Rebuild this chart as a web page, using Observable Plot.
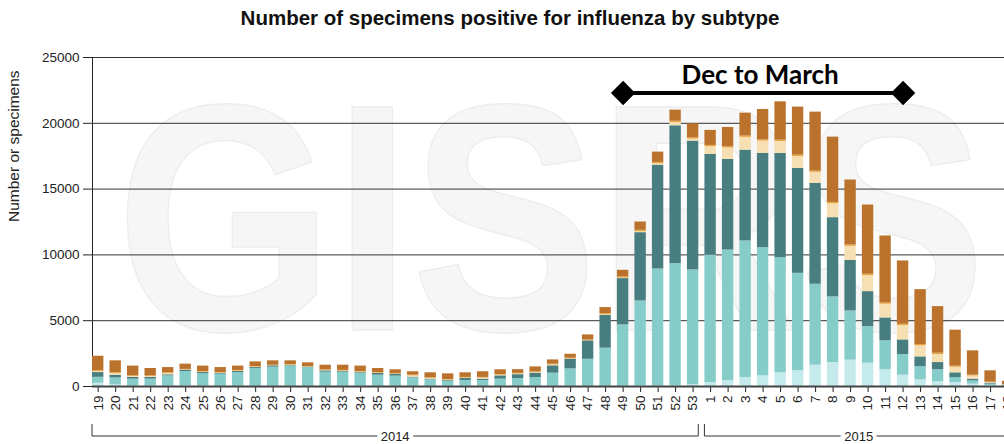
<!DOCTYPE html>
<html><head><meta charset="utf-8">
<script src="https://cdn.jsdelivr.net/npm/d3@7"></script>
<script src="https://cdn.jsdelivr.net/npm/@observablehq/plot@0.6"></script>
<style>
html,body{margin:0;padding:0;background:#fff;overflow:hidden;width:1004px;height:444px}
#title{height:36px;font:bold 20.5px "Liberation Sans",Arial,sans-serif;line-height:36px;text-align:center;padding-left:16px;color:#111;box-sizing:border-box}
#chart{position:relative}
</style></head><body>
<div id="title">Number of specimens positive for influenza by subtype</div>
<div id="chart"></div>
<script>
// Week tick labels: 2014 weeks 19–53, then 2015 weeks 1–18
const weekLabels = [
  "19","20","21","22","23","24","25","26","27","28","29","30","31","32","33","34","35","36","37","38","39","40","41","42","43","44","45","46","47","48","49","50","51","52","53",
  "1","2","3","4","5","6","7","8","9","10","11","12","13","14","15","16","17","18"
];
const yearSpans = [
  {year: "2014", from: "19", to: "53"},
  {year: "2015", from: "1", to: "18"}
];
const seriesNames = ["A(H1N1)pdm09", "A(H3)", "A (not subtyped)", "B (Yamagata lineage)", "B (Victoria lineage)", "B (lineage not determined)"];
const seriesColors = ["#c5eaec", "#86ccc9", "#487e80", "#f6dfb2", "#e9a43c", "#ba722c"];
const yTicks = [0, 5000, 10000, 15000, 20000, 25000];
const yLabel = "Number or specimens";

const aH1N1pdm = [
  250,120,30,30,30,60,30,20,20,20,20,20,20,20,20,20,20,20,20,20,20,20,20,20,20,20,20,20,20,20,20,30,30,50,130,
  300,430,680,810,1040,1190,1620,1820,2000,1770,1270,860,510,350,300,180,80,30
];
const aH3 = [
  450,530,530,530,780,1080,930,920,1040,1350,1450,1550,1420,1070,1070,990,840,770,640,490,390,440,440,540,580,660,990,1320,2050,2890,4660,6470,8900,9290,8730,
  9690,9940,10380,9740,8750,7410,6150,4990,3740,2780,2200,1570,1010,920,380,250,100,50
];
const aNotSubtyped = [
  360,210,130,130,80,100,100,50,80,70,100,30,30,100,50,50,130,150,50,50,50,150,100,250,300,330,560,730,1400,2500,3520,5190,7890,10470,9790,
  7640,6880,6900,7160,7920,7970,7660,6020,3850,2660,1740,1110,730,550,360,130,70,30
];
const bYamagata = [
  80,120,70,70,90,20,30,30,30,30,10,20,10,30,30,30,20,10,100,50,30,30,80,50,50,40,60,20,10,50,40,80,110,250,150,
  590,870,970,940,910,910,840,1060,1060,1220,1040,1090,840,610,420,240,40,20
];
const bVictoria = [
  60,60,50,50,60,40,50,40,50,50,40,50,40,50,50,50,50,40,50,50,40,50,50,50,50,60,70,60,60,80,80,100,100,100,100,
  100,100,100,100,100,100,100,100,100,100,100,100,100,100,80,60,40,20
];
const bNotDetermined = [
  1100,910,740,560,400,400,410,380,330,350,330,280,280,350,400,410,310,280,260,380,430,350,430,360,280,380,320,300,380,460,510,630,780,840,1060,
  1140,1460,1740,2300,2910,3650,4480,4960,4940,5260,5090,4810,4170,3540,2740,1850,860,250
];
const seriesValues = [aH1N1pdm, aH3, aNotSubtyped, bYamagata, bVictoria, bNotDetermined];

// Annotation: Dec to March
const annotation = [{from: "49", to: "12", level: 22300, text: "Dec to March", textAt: "4", textLevel: 23650}];

const rows = seriesNames.flatMap((s, i) => seriesValues[i].map((v, j) => ({week: weekLabels[j], series: s, value: v})));
const ends = annotation.flatMap(a => [{x: a.from, y: a.level}, {x: a.to, y: a.level}]);

const chart = Plot.plot({
  width: 1004, height: 408,
  marginLeft: 92, marginRight: 0, marginTop: 21, marginBottom: 58,
  style: {fontFamily: '"Liberation Sans", Arial, sans-serif', fontSize: "13.5px", color: "#222", background: "transparent", overflow: "visible"},
  x: {domain: weekLabels, range: [92, 1015], round: false, paddingInner: 0.35, paddingOuter: 0.05, align: 0, tickRotate: -90, tickSize: 6, tickPadding: 3, label: null},
  y: {domain: [0, 25000], ticks: yTicks, tickSize: 9, tickPadding: 4, tickFormat: d => String(d), label: null, line: true},
  color: {domain: seriesNames, range: seriesColors},
  marks: [
    Plot.ruleY(yTicks.slice(1), {stroke: "#333", strokeWidth: 1}),
    Plot.barY(rows, {x: "week", y: "value", fill: "series", order: seriesNames}),
    Plot.ruleY([0], {stroke: "#444", strokeWidth: 2}),
    Plot.link(annotation, {x1: "from", x2: "to", y1: "level", y2: "level", stroke: "#000", strokeWidth: 4}),
    Plot.dot(ends, {x: "x", y: "y", symbol: "diamond2", r: 11, fill: "#000"}),
    Plot.text(annotation, {x: "textAt", y: "textLevel", text: "text", fontSize: 26, fontWeight: "bold", fontFamily: "Lato", fill: "#000", dx: -3}),
    Plot.text([yLabel], {frameAnchor: "left", rotate: -90, dx: -78, text: d => d, fontSize: 15.5, fill: "#222"})
  ]
});
document.getElementById("chart").appendChild(chart);

// watermark behind everything
const svg = d3.select(chart);
svg.insert("text", "g")
  .attr("x", 116).attr("y", 294).attr("text-anchor", "start")
  .attr("textLength", 870).attr("lengthAdjust", "spacingAndGlyphs")
  .attr("font-size", 324).attr("font-weight", "bold").attr("font-family", "Liberation Sans, Arial")
  .attr("fill", "#f6f6f6").attr("stroke", "#ededed").attr("stroke-width", 1.5)
  .text("GISRS");

// year brackets using the plot's x scale
const xs = chart.scale("x");
const bw = xs.bandwidth;
const yb = 400;
const gb = svg.append("g").attr("fill", "none").attr("stroke", "#333").attr("stroke-width", 1);
yearSpans.forEach(s => {
  const x1 = xs.apply(s.from), x2 = xs.apply(s.to) + bw;
  gb.append("path").attr("d", `M${x1},${yb - 12}V${yb}H${x2}V${yb - 12}`);
  svg.append("text").attr("x", (x1 + x2) / 2).attr("y", yb).attr("dy", "0.35em")
    .attr("text-anchor", "middle").attr("font-size", 13).attr("fill", "#222")
    .attr("stroke", "#fff").attr("stroke-width", 8).attr("paint-order", "stroke")
    .text(s.year);
});
</script>
</body></html>
